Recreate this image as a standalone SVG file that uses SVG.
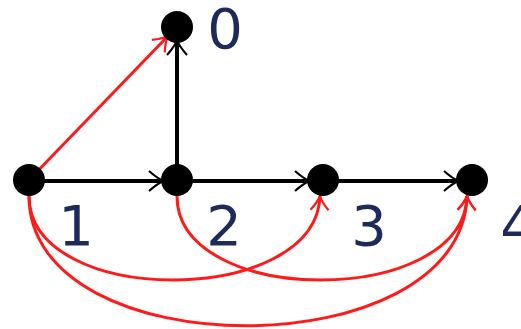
<svg xmlns="http://www.w3.org/2000/svg" width="521" height="329" viewBox="0 0 521 329">
  <style>
    .node { fill: #000000; }
    .edge { fill: none; stroke: #000000; stroke-width: 4; }
    .redge { fill: none; stroke: #ff1a1a; stroke-width: 3; }
    .lbl { font-family: "DejaVu Sans", sans-serif; font-size: 56px; fill: #1c2a5c; text-anchor: middle; }
  </style>
  <defs>
    <marker id="ab" markerUnits="userSpaceOnUse" orient="auto" refX="0" refY="0" markerWidth="30" markerHeight="30" overflow="visible">
      <path d="M -15 -10 Q -6 -2 0 0 Q -6 2 -15 10" fill="none" stroke="#000000" stroke-width="2.2"/>
    </marker>
    <marker id="ar" markerUnits="userSpaceOnUse" orient="auto" refX="0" refY="0" markerWidth="30" markerHeight="30" overflow="visible">
      <path d="M -14 -9 Q -6 -2 0 0 Q -6 2 -14 9" fill="none" stroke="#ff1a1a" stroke-width="2.2"/>
    </marker>
  </defs>
  <g id="connectors">
    <line class="edge" x1="177" y1="180" x2="177" y2="40" marker-end="url(#ab)"/>
    <line class="edge" x1="29" y1="181" x2="164" y2="181" marker-end="url(#ab)"/>
    <line class="edge" x1="177" y1="181" x2="310" y2="181" marker-end="url(#ab)"/>
    <line class="edge" x1="323" y1="181" x2="459" y2="181" marker-end="url(#ab)"/>
    <line class="redge" x1="29" y1="180" x2="168" y2="36" marker-end="url(#ar)"/>
    <path class="redge" d="M29,196 C29,308 316,308 320,196" marker-end="url(#ar)"/>
    <path class="redge" d="M177,196 C177,308 464,308 467,196" marker-end="url(#ar)"/>
    <path class="redge" d="M29,196 C29,369 462,369 467,196" marker-end="url(#ar)"/>
  </g>
  <g id="node0">
    <circle class="node" cx="177" cy="27" r="16"/>
    <text class="lbl" x="225" y="48">0</text>
  </g>
  <g id="node1">
    <circle class="node" cx="29" cy="180" r="16"/>
    <text class="lbl" x="76" y="245">1</text>
  </g>
  <g id="node2">
    <circle class="node" cx="177" cy="180" r="16"/>
    <text class="lbl" x="224" y="245">2</text>
  </g>
  <g id="node3">
    <circle class="node" cx="323" cy="180" r="16"/>
    <text class="lbl" x="369" y="245">3</text>
  </g>
  <g id="node4">
    <circle class="node" cx="472" cy="180" r="16"/>
    <text class="lbl" x="518" y="245">4</text>
  </g>
</svg>
